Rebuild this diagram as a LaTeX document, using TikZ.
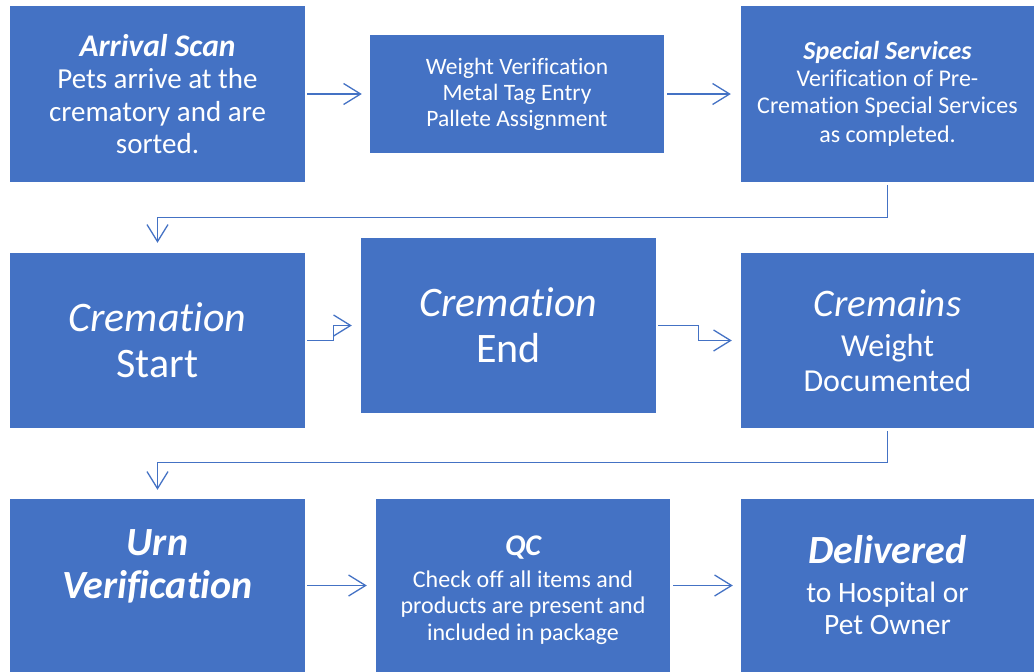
\documentclass[tikz,border=0pt]{standalone}
\usepackage{fontspec}
\setmainfont{Carlito}[Ligatures=NoCommon]
\usetikzlibrary{arrows.meta}
\definecolor{boxblue}{HTML}{4472C4}
\tikzset{
  box/.style={fill=boxblue, draw=none, text=white, align=center, inner sep=0pt},
  conn/.style={draw=boxblue, line width=1.3pt, -{Straight Barb[length=17pt,width=21pt,line width=1.3pt]}},
}
\newcommand{\fs}[2]{\fontsize{#1}{#2}\selectfont}
\newcommand{\bi}{\bfseries\itshape}
\begin{document}
\begin{tikzpicture}[x=1pt,y=-1pt]
\useasboundingbox (0,0) rectangle (1034,672);
\node[box, minimum width=295pt, minimum height=176pt, font=\fs{29}{32.5}] (A) at (157.5,94)
  {{\fs{31.5}{32.5}\bi Arrival Scan}\\ Pets arrive at the\\ crematory and are\\ sorted.};
\node[box, minimum width=294pt, minimum height=118pt, font=\fs{23.5}{26}] (B) at (517,94)
  {Weight Verification\\ Metal Tag Entry\\ Pallete Assignment};
\node[box, minimum width=293pt, minimum height=176pt, font=\fs{24}{27.5}] (C) at (887.5,94)
  {{\fs{26}{27.5}\bi Special Services}\\[-1pt] Verification of Pre-\\ Cremation Special Services\\[1pt] as completed.};
\node[box, minimum width=295pt, minimum height=175pt, font=\fs{42}{46}] (D) at (157.5,340.5)
  {{\itshape Cremation}\\ Start};
\node[box, minimum width=295pt, minimum height=175pt, font=\fs{42}{46}] (E) at (508.5,325.5)
  {{\itshape Cremation}\\ End};
\node[box, minimum width=293pt, minimum height=175pt, font=\fs{32}{35}] (F) at (887.5,340.5)
  {{\fs{39}{35}\itshape Cremains}\\[5pt] Weight\\ Documented};
\node[box, minimum width=295pt, minimum height=173pt, font=\fs{40}{43}\bi] (G) at (157.5,585.5)
  {Urn\\ Verification\\ \mbox{}};
\node[box, minimum width=294pt, minimum height=173pt, font=\fs{24}{26.5}] (H) at (523,585.5)
  {\mbox{}\\[2.5pt] {\fs{30}{26.5}\bi QC}\\[5pt] Check off all items and\\ products are present and\\ included in package};
\node[box, minimum width=293pt, minimum height=173pt, font=\fs{29.5}{32}] (I) at (887.5,585.5)
  {{\fs{40}{32}\bi Delivered}\\[7pt] to Hospital or\\ Pet Owner};
\draw[conn] ([xshift=2pt]A.east) -- ([xshift=-8pt]B.west);
\draw[conn] ([xshift=3pt]B.east) -- ([xshift=-10pt]C.west);
\draw[conn] ([yshift=-3pt]C.south) -- ++(0,32) -| ([yshift=10pt]D.north);
\draw[conn] ([xshift=2pt]D.east) -- ++(26,0) |- ([xshift=-9pt]E.west);
\draw[conn] ([xshift=2pt]E.east) -- ++(40,0) |- ([xshift=-9pt]F.west);
\draw[conn] ([yshift=-3pt]F.south) -- ++(0,31) -| ([yshift=9pt]G.north);
\draw[conn] ([xshift=2pt]G.east) -- ([xshift=-9pt]H.west);
\draw[conn] ([xshift=3pt]H.east) -- ([xshift=-8pt]I.west);
\end{tikzpicture}
\end{document}
